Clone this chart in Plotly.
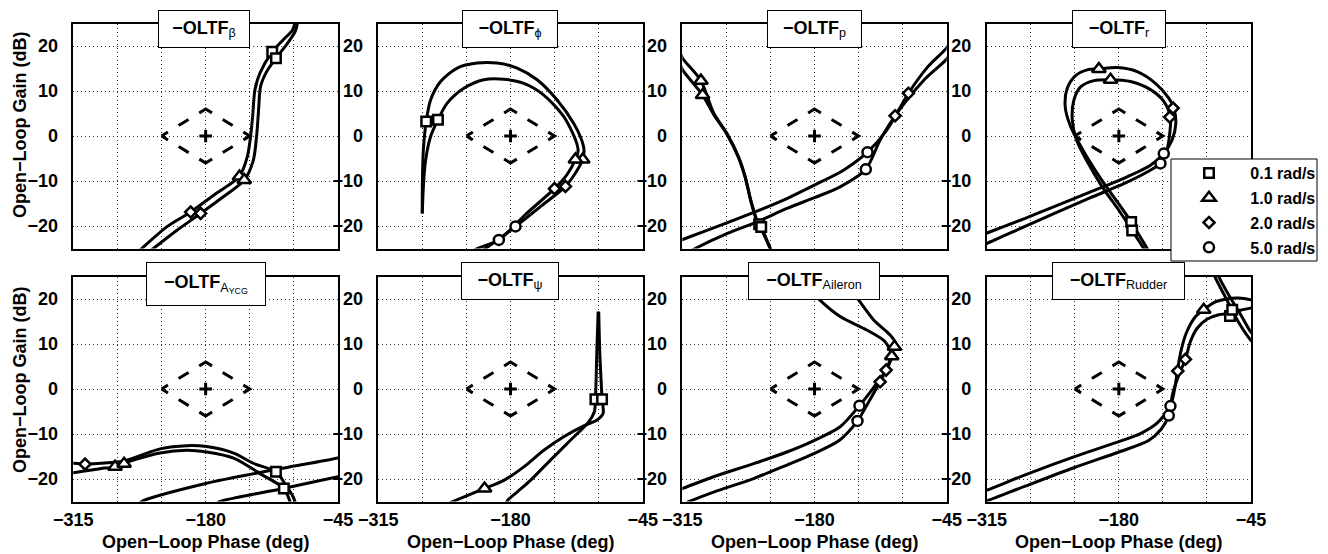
import plotly.graph_objects as go

# page geometry: the browser body keeps its default 8px margin, so the figure is
# laid out in screen pixels and placed 8px in from the page's top-left corner
SCREEN_W, SCREEN_H = 1328, 554
OFF = 8
FIG_W, FIG_H = SCREEN_W - OFF, SCREEN_H - OFF

# ---------------- axes / reference values ----------------
PHASE_RANGE = [-315, -45]
GAIN_RANGE = [-25, 25]
X_MAJOR = [-315, -180, -45]
X_MAJOR_LABELS = ["\u2212315", "\u2212180", "\u221245"]
X_MINOR = [-270, -225, -135, -90]
Y_GRID = [-20, -10, 0, 10, 20]
Y_LABELS = ["\u221220", "\u221210", "0", "10", "20"]

# Nichols exclusion zone and critical point
ZONE_PH = [-225, -180, -135, -180, -225]
ZONE_DB = [0, 6, 0, -6, 0]
CRIT_PH = [-180]
CRIT_DB = [0]

FREQ_LABELS = ["0.1 rad/s", "1.0 rad/s", "2.0 rad/s", "5.0 rad/s"]

TITLES = [
    "<b>\u2212OLTF</b><sub>\u03b2</sub>",
    "<b>\u2212OLTF</b><sub>\u03d5</sub>",
    "<b>\u2212OLTF</b><sub>p</sub>",
    "<b>\u2212OLTF</b><sub>r</sub>",
    "<b>\u2212OLTF</b><sub>A<sub>YCG</sub></sub>",
    "<b>\u2212OLTF</b><sub>\u03c8</sub>",
    "<b>\u2212OLTF</b><sub>Aileron</sub>",
    "<b>\u2212OLTF</b><sub>Rudder</sub>",
]

# ---------------- curve data (phase deg, gain dB) ----------------
# beta
beta_a_ph = [-253, -245.2, -219.7, -195.3, -172.2, -151.8, -145.5, -137.5, -134.1, -132.1, -129.7, -124.6, -112.1, -100.9, -91.5, -88.5]
beta_a_db = [-26.5, -25.0, -20.2, -16.9, -13.2, -10.2, -9.0, -4.6, 0.0, 4.3, 10.3, 14.0, 18.7, 21.4, 23.5, 25.5]
beta_b_ph = [-242, -233.3, -209.6, -185.1, -162.0, -140.6, -131.4, -128.0, -126.0, -124.0, -117.8, -108.3, -97.5, -88.5, -86.0]
beta_b_db = [-26.5, -25.0, -21.0, -17.2, -13.5, -9.8, -5.4, 0.0, 5.8, 11.0, 14.3, 17.3, 20.3, 23.3, 25.5]
beta_marks = {"sq": [(-112.1, 18.7), (-108.3, 17.3)],
              "tri": [(-145.5, -9.0), (-140.6, -9.8)],
              "dia": [(-195.3, -16.9), (-185.1, -17.2)],
              "cir": []}

# phi
phi_a_ph = [-270.1, -270.0, -269.0, -266.1, -261.6, -251.4, -234.4, -214.0, -193.6, -173.2, -152.8, -132.4, -115.4, -108.0, -105.0, -106.2, -113.0, -123.9, -150.0, -174.9, -190.0, -205.7, -212.0]
phi_a_db = [-17.2, -10.6, -3.1, 3.2, 8.0, 12.1, 15.1, 16.2, 16.2, 15.1, 12.5, 8.0, 2.8, -0.5, -3.0, -5.2, -8.0, -11.2, -15.8, -20.1, -22.6, -25.0, -26.0]
phi_b_ph = [-270.1, -269.0, -266.7, -261.6, -254.1, -244.6, -227.6, -207.2, -186.8, -166.4, -146.0, -125.6, -113.5, -111.0, -113.7, -122.0, -135.1, -165.0, -191.9, -214.0, -220.0]
phi_b_db = [-17.2, -11.3, -5.4, -0.1, 3.6, 7.3, 10.6, 12.5, 12.6, 11.7, 9.1, 4.3, -0.9, -3.3, -5.2, -8.5, -11.7, -17.5, -23.1, -25.0, -25.8]
phi_marks = {"sq": [(-266.1, 3.2), (-254.1, 3.6)],
             "tri": [(-106.2, -5.2), (-113.7, -5.2)],
             "dia": [(-123.9, -11.2), (-135.1, -11.7)],
             "cir": [(-174.9, -20.1), (-191.9, -23.1)]}

# p  (None separates the phase-wrapped branch)
p_a_ph = [-318, -314.7, -296.0, -283.0, -269.5, -257.6, -250.7, -245.0, -238.8, -236.5, -225.2, -222.0, None,
          -40.0, -45.0, -65.0, -84.1, -106.2, -125.9, -150.4, -180.0, -208.2, -238.8, -269.5, -314.7, -320.0]
p_a_db = [19.0, 17.3, 12.3, 5.1, 0.6, -4.6, -9.1, -14.3, -18.7, -19.6, -25.0, -26.5, None,
          21.4, 19.6, 15.2, 9.5, 1.3, -3.6, -7.6, -10.9, -13.9, -16.7, -19.3, -23.0, -23.4]
p_b_ph = [-318, -314.7, -294.3, -283.0, -269.5, -257.6, -250.7, -245.0, -238.8, -234.4, -225.2, -222.0, None,
          -40.0, -45.0, -68.8, -97.7, -113.0, -127.6, -153.8, -180.0, -208.2, -238.8, -269.5, -301.8, -305.0]
p_b_db = [16.5, 14.7, 9.1, 4.8, 0.4, -4.8, -9.3, -14.5, -18.9, -20.2, -25.0, -26.5, None,
          18.9, 17.1, 12.3, 4.5, -0.9, -7.4, -11.3, -13.7, -16.1, -19.1, -21.7, -25.0, -25.4]
p_marks = {"sq": [(-236.5, -19.6), (-234.4, -20.2)],
           "tri": [(-296.0, 12.3), (-294.3, 9.1)],
           "dia": [(-84.1, 9.5), (-97.7, 4.5)],
           "cir": [(-125.9, -3.6), (-127.6, -7.4)]}

# r
r_a_ph = [-147.0, -151.1, -167.4, -181.7, -198.7, -215.7, -229.3, -234.8, -232.7, -224.2, -212.3, -200.4, -181.7, -161.3, -142.6, -129.0, -123.9, -121.8, -125.6, -134.1, -147.7, -174.9, -208.9, -242.9, -277.0, -314.0, -320.0]
r_a_db = [-26.5, -25.0, -19.1, -14.6, -9.4, -3.5, 2.1, 6.5, 10.6, 13.4, 14.7, 14.9, 15.2, 14.3, 11.7, 8.4, 6.2, 2.8, -0.9, -3.9, -6.5, -9.4, -12.4, -15.4, -18.4, -21.5, -22.0]
r_b_ph = [-150.0, -154.5, -166.4, -180.0, -197.0, -212.3, -223.2, -227.6, -225.9, -219.1, -205.5, -188.5, -168.1, -147.7, -134.1, -127.3, -128.0, -131.0, -137.5, -151.1, -174.9, -208.9, -242.9, -277.0, -314.0, -320.0]
r_b_db = [-26.5, -25.0, -21.0, -16.5, -11.3, -5.7, -0.9, 3.6, 8.0, 10.9, 12.3, 12.5, 12.1, 10.3, 7.7, 4.2, 0.6, -3.2, -6.1, -8.0, -10.6, -13.7, -16.9, -20.2, -23.8, -24.3]
r_marks = {"sq": [(-167.4, -19.1), (-166.4, -21.0)],
           "tri": [(-200.4, 14.9), (-188.5, 12.5)],
           "dia": [(-124.6, 6.2), (-128.0, 4.2)],
           "cir": [(-134.1, -3.9), (-137.5, -6.1)]}

# A_YCG
aycg_a_ph = [-320, -315, -303.0, -287.7, -263.2, -246.9, -226.5, -199.4, -179.0, -150.8, -131.4, -108.3, -99.2, -90.7, -87.5, None,
             -248.0, -245.2, -180.0, -111.0, -45.0, -40.0]
aycg_a_db = [-16.5, -16.5, -16.7, -16.5, -16.0, -14.8, -13.3, -12.6, -12.8, -14.3, -16.5, -18.4, -21.0, -24.0, -26.0, None,
             -25.6, -25.0, -21.0, -18.0, -15.3, -15.0]
aycg_b_ph = [-320, -315, -287.7, -272.4, -253.7, -226.5, -199.4, -179.0, -150.8, -124.6, -100.2, -94.1, -92.0, None,
             -168.0, -165.4, -100.8, -45.0, -40.0]
aycg_b_db = [-18.8, -18.6, -17.7, -17.3, -15.8, -14.2, -13.6, -14.0, -15.4, -18.8, -22.1, -24.9, -26.0, None,
             -25.4, -25.0, -22.1, -19.5, -19.3]
aycg_marks = {"sq": [(-108.3, -18.4), (-100.2, -22.1)],
              "tri": [(-272.4, -17.3), (-263.2, -16.6)],
              "dia": [(-303.0, -16.7)],
              "cir": []}

# psi
psi_a_ph = [-90.5, -91.9, -92.6, -93.3, -94.3, -100.1, -118.8, -139.2, -159.6, -173.2, -183.4, -186.0]
psi_a_db = [17.2, 7.9, 2.0, -2.3, -5.0, -7.3, -11.4, -15.8, -20.3, -22.9, -24.9, -26.5]
psi_b_ph = [-89.9, -88.8, -87.5, -86.5, -85.4, -91.6, -105.2, -125.6, -146.0, -166.4, -186.8, -206.5, -237.8, -242.0]
psi_b_db = [17.2, 7.9, 2.0, -2.3, -5.4, -6.9, -8.2, -10.6, -13.6, -17.3, -20.3, -22.1, -24.9, -25.3]
psi_marks = {"sq": [(-93.3, -2.3), (-86.5, -2.3)],
             "tri": [(-206.5, -22.1)],
             "dia": [],
             "cir": []}

# Aileron
ail_a_ph = [-160.0, -155.5, -140.2, -119.8, -102.8, -96.5, -98.4, -102.8, -106.9, -120.0, -134.1, -153.8, -180.0, -208.2, -242.2, -283.1, -314.7, -320.0]
ail_a_db = [27.0, 25.0, 21.3, 15.4, 12.0, 10.0, 9.4, 6.5, 4.2, 0.2, -3.7, -8.4, -11.4, -14.0, -16.6, -19.5, -22.1, -22.5]
ail_b_ph = [-200.0, -181.0, -174.2, -153.8, -126.6, -107.9, -101.1, -106.0, -113.0, -125.0, -136.1, -154.5, -180.0, -208.2, -242.2, -283.1, -306.9, -310.0]
ail_b_db = [25.5, 21.3, 19.7, 16.1, 13.1, 10.5, 7.3, 4.5, 1.6, -3.0, -7.1, -11.4, -14.3, -16.9, -19.9, -22.9, -24.9, -25.2]
ail_marks = {"sq": [],
             "tri": [(-98.4, 9.4), (-101.1, 7.3)],
             "dia": [(-106.9, 4.2), (-113.0, 1.6)],
             "cir": [(-134.1, -3.7), (-136.1, -7.1)]}

# Rudder
rud_a_ph = [-320, -314, -277, -226, -180, -157.9, -141, -127.3, -123.2, -120.5, -117, -111, -102, -93.3, -82, -70, -58, -45, -40, None,
            -84, -82, -71.1, -58.9, -45, -42]
rud_a_db = [-22.8, -22.4, -19.2, -15.1, -11.7, -9.9, -7.6, -3.8, -0.2, 3.5, 8.0, 12.5, 16.0, 17.6, 19.3, 20.0, 20.2, 19.8, 19.5, None,
            26.5, 25.0, 20.4, 15.3, 10.8, 10.2]
rud_b_ph = [-320, -314, -277, -226, -180, -150, -137, -129, -125, -118, -112, -107, -100, -90, -78, -66.7, -56, -45, -40, None,
            -80, -78, -67, -55.5, -45, -42]
rud_b_db = [-25.2, -24.8, -21.7, -17.5, -14.0, -11.5, -9.0, -5.9, -1.0, 3.5, 6.6, 10.5, 13.5, 15.5, 16.5, 16.8, 17.5, 18.0, 18.2, None,
            26.5, 25.0, 20.6, 16.5, 12.6, 12.0]
rud_marks = {"sq": [(-66.5, 16.2), (-64.2, 17.6)],
             "tri": [(-93.3, 17.6)],
             "dia": [(-119.8, 4.0), (-112.0, 6.6)],
             "cir": [(-127.3, -3.8), (-129.0, -5.9)]}

PANELS = [
    ([(beta_a_ph, beta_a_db), (beta_b_ph, beta_b_db)], beta_marks),
    ([(phi_a_ph, phi_a_db), (phi_b_ph, phi_b_db)], phi_marks),
    ([(p_a_ph, p_a_db), (p_b_ph, p_b_db)], p_marks),
    ([(r_a_ph, r_a_db), (r_b_ph, r_b_db)], r_marks),
    ([(aycg_a_ph, aycg_a_db), (aycg_b_ph, aycg_b_db)], aycg_marks),
    ([(psi_a_ph, psi_a_db), (psi_b_ph, psi_b_db)], psi_marks),
    ([(ail_a_ph, ail_a_db), (ail_b_ph, ail_b_db)], ail_marks),
    ([(rud_a_ph, rud_a_db), (rud_b_ph, rud_b_db)], rud_marks),
]

# ---------------- styling / layout constants (screen pixels) ----------------
FONT = "Liberation Sans, Arial, Helvetica, sans-serif"
PANEL_X = [(73.3, 338.0), (378.3, 642.7), (682.3, 946.7), (986.7, 1251.0)]
ROW_Y = [(23.5, 248.5), (276.5, 501.5)]
TITLE_BOX = [(204, 29, 92, 38), (510, 29, 96, 38), (814.5, 29, 95, 38), (1119, 29, 94, 38),
             (206, 284, 120, 44), (510, 281, 98, 38), (814, 281, 132, 38), (1118.5, 281, 133, 38)]
MARKER_STYLE = {"sq": ("square", 9.5), "tri": ("triangle-up", 12), "dia": ("diamond", 8.5), "cir": ("circle", 10)}
MK_ORDER = ["sq", "tri", "dia", "cir"]
GRID = dict(gridcolor="rgba(0,0,0,0.8)", griddash="1px,3px", gridwidth=1)
LEGEND_PAD = "\u00a0\u00a0\u00a0"


def fx(px):
    return (px - OFF) / FIG_W


def fy(py):
    return 1 - (py - OFF) / FIG_H


fig = go.Figure()
layout = {}
annotations = []

for i, (curves, marks) in enumerate(PANELS):
    r, c = divmod(i, 4)
    sfx = "" if i == 0 else str(i + 1)
    xref, yref = "x" + sfx, "y" + sfx
    common = dict(showgrid=True, **GRID,
                  showline=True, mirror=True, linecolor="black", linewidth=1.5,
                  zeroline=False, ticks="", fixedrange=True, automargin=False,
                  tickfont=dict(family=FONT, size=18, color="black", weight="bold"))
    layout["xaxis" + sfx] = dict(common, domain=[fx(PANEL_X[c][0]), fx(PANEL_X[c][1])],
                                 range=PHASE_RANGE, anchor=yref, tickmode="array",
                                 tickvals=X_MAJOR, ticktext=X_MAJOR_LABELS,
                                 minor=dict(tickmode="array", tickvals=X_MINOR, showgrid=True, ticks="", **GRID),
                                 showticklabels=(r == 1), ticklabelstandoff=1)
    layout["yaxis" + sfx] = dict(common, domain=[fy(ROW_Y[r][1]), fy(ROW_Y[r][0])],
                                 range=GAIN_RANGE, anchor=xref, tickmode="array",
                                 tickvals=Y_GRID, ticktext=Y_LABELS, ticklabelstandoff=10)

    # exclusion zone and critical point
    fig.add_trace(go.Scatter(x=ZONE_PH, y=ZONE_DB, mode="lines", xaxis=xref, yaxis=yref,
                             line=dict(color="black", width=3,
                                       dash="7.5px,12.5px,11.7px,12.5px,7.5px,0px"),
                             showlegend=False, hoverinfo="skip"))
    fig.add_trace(go.Scatter(x=CRIT_PH, y=CRIT_DB, mode="markers", xaxis=xref, yaxis=yref,
                             marker=dict(symbol="cross-thin", size=9, line=dict(color="black", width=3)),
                             showlegend=False, hoverinfo="skip"))
    for ph, db in curves:
        fig.add_trace(go.Scatter(x=ph, y=db, mode="lines", xaxis=xref, yaxis=yref,
                                 line=dict(color="black", width=3, shape="spline", smoothing=0.8),
                                 connectgaps=False, showlegend=False, hoverinfo="skip"))
    for key in MK_ORDER:
        pts = marks[key]
        if not pts:
            continue
        sym, size = MARKER_STYLE[key]
        fig.add_trace(go.Scatter(x=[p[0] for p in pts], y=[p[1] for p in pts], mode="markers",
                                 xaxis=xref, yaxis=yref,
                                 marker=dict(symbol=sym, size=size, color="white",
                                             line=dict(color="black", width=2.5)),
                                 showlegend=False, hoverinfo="skip"))

    # panel title box
    cx, cy, bw, bh = TITLE_BOX[i]
    annotations.append(dict(text=TITLES[i], x=fx(cx), y=fy(cy), xref="paper", yref="paper",
                            xanchor="center", yanchor="middle", showarrow=False,
                            width=bw - 2, height=bh - 2, align="center", valign="middle",
                            bgcolor="white", bordercolor="black", borderwidth=1, borderpad=0,
                            font=dict(family=FONT, size=18, color="black")))
    if r == 1:
        annotations.append(dict(text="<b>Open\u2212Loop Phase (deg)</b>",
                                x=fx((PANEL_X[c][0] + PANEL_X[c][1]) / 2), y=fy(541.5),
                                xref="paper", yref="paper", xanchor="center", yanchor="middle",
                                showarrow=False, font=dict(family=FONT, size=18, color="black")))
    if c == 0:
        annotations.append(dict(text="<b>Open\u2212Loop Gain (dB)</b>", textangle=-90,
                                x=fx(20), y=fy(125 if r == 0 else 380),
                                xref="paper", yref="paper", xanchor="center", yanchor="middle",
                                showarrow=False, font=dict(family=FONT, size=18, color="black")))

# legend entries (marker key)
for key, lab in zip(MK_ORDER, FREQ_LABELS):
    sym, size = MARKER_STYLE[key]
    fig.add_trace(go.Scatter(x=[None], y=[None], mode="markers", name=LEGEND_PAD + lab,
                             legendgroup=key,
                             marker=dict(symbol=sym, size=size, color="white",
                                         line=dict(color="black", width=2.5)),
                             showlegend=True))

fig.update_layout(
    width=FIG_W, height=FIG_H, margin=dict(l=0, r=0, t=0, b=0, autoexpand=False),
    paper_bgcolor="white", plot_bgcolor="white",
    annotations=annotations,
    shapes=[dict(type="rect", xref="paper", yref="paper",
                 x0=fx(1171), x1=fx(1317), y0=fy(261), y1=fy(159),
                 line=dict(color="black", width=1), fillcolor="white", layer="above")],
    legend=dict(x=fx(1181), y=fy(156), xanchor="left", yanchor="top",
                bgcolor="rgba(0,0,0,0)", borderwidth=0, itemwidth=46,
                traceorder="grouped", tracegroupgap=1,
                font=dict(family=FONT, size=16, color="black", weight="bold")),
    **layout,
)

fig.write_html("out.html")
